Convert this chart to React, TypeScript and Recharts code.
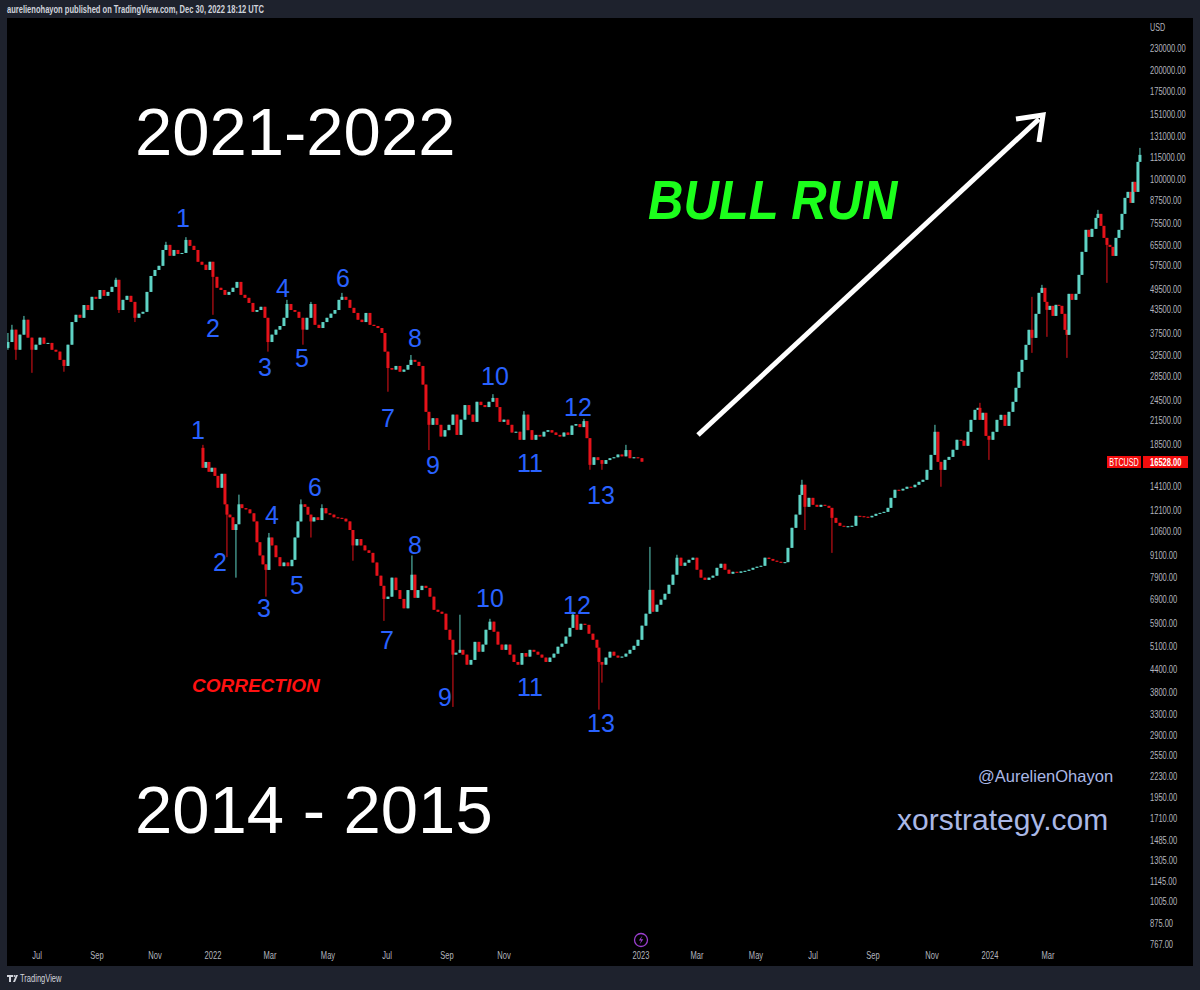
import React from 'react'
import { ComposedChart, Bar, XAxis, YAxis } from 'recharts'

// candle = [t, close, high?, low?]  (open = previous close, high/low fall back to the body)
type C = [number, number, (number | null)?, (number | null)?]

const upperOpen = 34100
const upperCandles: C[] = [
  [1, 35400, 37500, 33700], [5, 38300, 39500], [9, 33700, null, 31600], [13, 37100], [17, 40800, 41800],
  [21, 36400], [25, 33700, null, 29100], [29, 34800], [33, 36400], [37, 35000], [41, 35200], [45, 33700],
  [49, 33300], [53, 31600], [57, 30400, null, 29300], [61, 34800], [65, 40200], [69, 42100], [73, 41300],
  [77, 44800], [81, 43400], [85, 47200], [89, 46600], [93, 49300], [97, 47500], [101, 48700], [105, 50300],
  [109, 52600, 53300], [112, 43400, null, 42600], [116, 46300], [120, 47500], [124, 45700],
  [128, 41300, null, 40200], [132, 42400], [136, 42900], [140, 48700], [144, 53900], [148, 56000],
  [152, 57500], [156, 63600], [159, 65700, 67000], [163, 61300], [167, 63600], [171, 62000], [175, 62400],
  [179, 67800, 69000], [183, 65300], [187, 63600], [191, 59000], [195, 57900], [199, 56000], [203, 59000],
  [206, 53600, null, 42100], [210, 50000], [214, 49300], [218, 47800], [222, 48700], [226, 50000],
  [230, 51900], [234, 47800], [238, 46900], [242, 45400], [246, 42900], [250, 43400], [254, 44300],
  [258, 41300], [261, 35400, null, 33300], [265, 37100], [269, 38300], [273, 39200], [277, 41300],
  [280, 45100, 46300], [284, 43400], [288, 42900], [292, 41300], [296, 38300, null, 34800], [300, 41300],
  [304, 45100, 45700], [308, 39500], [312, 38700], [316, 40200], [320, 41300], [324, 42400], [328, 43400],
  [332, 46300], [335, 47200, 48400], [339, 46300], [343, 44000], [347, 42600], [351, 40800], [355, 40200],
  [359, 42600], [363, 39500], [367, 39200], [371, 38700], [375, 37500], [378, 33300],
  [381, 30000, null, 25800], [385, 29700], [389, 30400], [393, 29300], [397, 29700], [401, 30600],
  [404, 31600, 32600], [408, 31200], [412, 30400], [416, 27000], [419, 22700], [422, 20900, null, 17800],
  [426, 21800], [430, 20900], [434, 19400], [438, 20200], [442, 20900], [446, 22300], [450, 19600],
  [454, 21600], [458, 23700], [462, 22300], [466, 21300], [470, 24200], [474, 23700], [478, 23400],
  [482, 24200], [486, 24800, 25400], [490, 23400], [493, 21300], [497, 21600], [501, 20900], [505, 19900],
  [509, 20000], [513, 19000], [517, 22300, 22800], [521, 20200], [525, 19000], [529, 19600], [533, 19400],
  [537, 20000], [541, 20200], [545, 19900], [549, 19600], [553, 19400], [557, 19900], [561, 19600],
  [565, 20800], [569, 21000], [573, 20600], [577, 21400, 21700], [580, 19200], [583, 16200, null, 15700],
  [587, 17000], [591, 16700], [595, 16300, null, 15700], [599, 16700], [603, 16900], [607, 17000],
  [611, 17300], [615, 17100], [619, 17800, 18400], [623, 16900], [627, 17000], [631, 16900], [635, 16528],
]

const lowerOpen = 18050
const lowerCandles: C[] = [
  [196, 15900, 18400], [199, 16500], [202, 15500], [205, 15900], [208, 15100], [211, 14000], [215, 15300],
  [218, 12600], [220, 11800, null, 9000], [223, 11600], [226, 10700], [229, 11100, null, 7900],
  [232, 12600, 13400], [235, 12300], [239, 12200], [243, 11900], [247, 11300], [250, 9900], [253, 9100],
  [256, 8600], [259, 8300, null, 7000], [262, 10200, 10500], [265, 9700], [269, 9000], [273, 8500],
  [277, 8700], [281, 8500], [285, 8850], [288, 10200], [291, 11300], [294, 12600, 13000], [298, 12400],
  [301, 11800], [304, 11300, null, 10200], [307, 11600], [311, 11400], [315, 12300, 12600], [319, 11900],
  [323, 11800], [327, 11600], [331, 11560], [335, 11500], [339, 11300], [343, 10700],
  [346, 9700, null, 8800], [350, 10100], [354, 9700], [358, 9400], [362, 9250], [366, 8700], [370, 8000],
  [374, 7500], [377, 6900, null, 6000], [381, 7000], [385, 7900], [389, 7300], [393, 6900], [397, 6500],
  [401, 7300], [405, 8050, 9100], [408, 6950], [411, 7300], [415, 7500], [419, 7400], [423, 7000],
  [427, 6440], [431, 6360], [435, 6280], [439, 5670], [443, 5320], [446, 4840, null, 3470], [449, 4900],
  [453, 4990, 6240], [456, 4840], [460, 4540], [464, 4680], [468, 5250], [472, 4930], [476, 5160],
  [479, 5670], [483, 5970, 6080], [487, 5600], [491, 5160], [495, 4990], [499, 5160], [503, 4840],
  [507, 4620], [511, 4540], [515, 4890], [519, 4780], [523, 4990], [527, 4930], [531, 4840], [535, 4750],
  [539, 4620], [543, 4750], [547, 4870], [551, 5090], [555, 5190], [559, 5430], [563, 5740],
  [566, 6240, 6360], [570, 5670], [574, 5890], [578, 5850], [582, 5530], [586, 5320], [590, 5060],
  [592, 4620, null, 3410], [595, 4540, null, 4050], [599, 4750], [603, 4930], [607, 4810], [611, 4750],
  [615, 4780], [619, 4870], [623, 4990], [627, 5120], [631, 5320], [635, 5820], [639, 6280],
  [643, 7310, 9610], [646, 6360], [650, 6650], [654, 6870], [658, 7130], [662, 7550], [666, 8050],
  [670, 8970, 9140], [674, 8520], [678, 8690], [682, 8850], [686, 8970], [690, 8310], [694, 7900],
  [698, 7790], [702, 7900], [706, 8000], [710, 8410], [714, 8630], [718, 8310], [722, 8100], [726, 8200],
  [730, 8150], [734, 8220], [738, 8250], [742, 8310], [746, 8410], [750, 8470], [754, 8520], [758, 8970],
  [762, 8900], [766, 8800], [770, 8740], [774, 8690], [778, 8720], [781, 9550], [785, 10850], [789, 11800],
  [793, 13380], [795, 14270, 14730], [798, 12400, null, 10700], [802, 13130], [806, 12560], [810, 12400],
  [814, 12560], [818, 12480], [822, 12320], [825, 11560, null, 9250], [829, 11200], [833, 10990],
  [837, 10920], [841, 10960], [845, 10990], [849, 11710], [853, 11680], [857, 11640], [861, 11600],
  [865, 11710], [869, 11860], [873, 11930], [877, 12010], [881, 12320], [884, 13130], [888, 13820],
  [892, 13760], [896, 13910], [900, 14090], [904, 14050], [908, 14270], [912, 14540], [916, 14730],
  [920, 15690], [924, 17260], [928, 19990, 20900], [931, 16510], [934, 15690, null, 14090], [938, 16720],
  [942, 17040], [946, 17830], [950, 19000], [954, 18900], [957, 18290], [961, 19990], [964, 21570],
  [968, 22990], [971, 23280], [973, 21570, 24040], [976, 22560], [979, 19480], [982, 19000, null, 16720],
  [986, 19990], [990, 21570], [994, 22270], [998, 20760], [1002, 22700], [1006, 24190], [1009, 26450],
  [1012, 29280], [1015, 31600], [1019, 34770], [1022, 38260], [1025, 36350, 47190, 33040], [1029, 42350],
  [1032, 48410], [1035, 49970, 50940], [1038, 45710], [1040, 43440, null, 36590], [1043, 44560],
  [1046, 41810], [1049, 44850], [1052, 44560], [1055, 42350], [1058, 38260], [1060, 37060, null, 32000],
  [1062, 48100], [1065, 46300], [1069, 48100], [1072, 54280], [1075, 62840], [1079, 72290], [1082, 69140],
  [1085, 72750], [1089, 78010], [1091, 80030, 82100], [1094, 74150], [1097, 68690],
  [1100, 65700, null, 51590], [1103, 64870], [1106, 61250], [1109, 68690], [1112, 72290], [1115, 80030],
  [1118, 88610], [1121, 92060], [1124, 85830], [1126, 98110], [1128, 92060], [1131, 111430],
  [1133, 116510, 121800],
]

const monthTicks = [30, 90, 148, 206, 263, 321, 380, 440, 497, 634, 690, 749, 806, 866, 925, 983, 1041]
const monthLabels = ['Jul', 'Sep', 'Nov', '2022', 'Mar', 'May', 'Jul', 'Sep', 'Nov', '2023', 'Mar', 'May', 'Jul', 'Sep', 'Nov', '2024', 'Mar']

const priceTicks = [
  230000, 200000, 175000, 151000, 131000, 115000, 100000, 87500, 75500, 65500, 57500, 49500, 43500,
  37500, 32500, 28500, 24500, 21500, 18500, 14100, 12100, 10600, 9100, 7900, 6900, 5900, 5100, 4400,
  3800, 3300, 2900, 2550, 2230, 1950, 1710, 1485, 1305, 1145, 1005, 875, 767,
]
const lastPrice = 16528

const upperWaves: [string, number, number][] = [
  ['1', 183, 218], ['2', 213, 328], ['3', 265, 367], ['4', 283, 288], ['5', 302, 358], ['6', 343, 278],
  ['7', 388, 418], ['8', 415, 338], ['9', 433, 465], ['10', 495, 376], ['11', 530, 463], ['12', 578, 407],
  ['13', 601, 495],
]
const lowerWaves: [string, number, number][] = [
  ['1', 198, 430], ['2', 220, 562], ['3', 264, 608], ['4', 272, 515], ['5', 297, 585], ['6', 315, 487],
  ['7', 387, 640], ['8', 415, 545], ['9', 445, 697], ['10', 490, 598], ['11', 530, 687], ['12', 577, 605],
  ['13', 601, 723],
]

const UP = '#5fd3c5'
const DOWN = '#e5121a'
const AXIS = '#b2b5be'
const SANS = "'Liberation Sans', Arial, sans-serif"
// the screenshot's UI font is a condensed one; squeeze Liberation Sans horizontally
const SQUEEZE = 0.72

function buildRows(open: number, list: C[]) {
  let prev = open
  return list.map(([t, c, hi, lo]) => {
    const o = prev
    prev = c
    const h = Math.max(o, c, hi ?? 0)
    const l = Math.min(o, c, lo ?? Infinity)
    return { t, o, h, l, c, range: [l, h] }
  })
}

const rows = [...buildRows(upperOpen, upperCandles), ...buildRows(lowerOpen, lowerCandles)]

// wick spans the bar rect (low..high); body placed by log interpolation inside it
const Candle = (props: any) => {
  const { x, y, width, height, payload } = props
  if (x == null || y == null || !payload) return null
  const top = Math.min(y, y + height)
  const bot = Math.max(y, y + height)
  const { o, h, l, c } = payload
  const lh = Math.log(h), ll = Math.log(l)
  const py = (v: number) => (lh === ll ? top : top + ((lh - Math.log(v)) / (lh - ll)) * (bot - top))
  const cx = x + width / 2
  const color = c >= o ? UP : DOWN
  const yo = py(o), yc = py(c)
  const bt = Math.min(yo, yc)
  const bh = Math.max(1, Math.abs(yo - yc))
  return (
    <g>
      <line x1={cx} x2={cx} y1={top} y2={Math.max(bot, top + 1)} stroke={color} strokeWidth={1} />
      <rect x={cx - 1.5} y={bt} width={3} height={bh} fill={color} />
    </g>
  )
}

const PriceTick = (props: any) => {
  const { x, y, payload } = props
  return (
    <text transform={`translate(${x},${y}) scale(${SQUEEZE},1)`} dy="0.35em" fontSize={10.5} fill={AXIS} fontFamily={SANS}>
      {Number(payload.value).toFixed(2)}
    </text>
  )
}

const MonthTick = (props: any) => {
  const { x, y, payload } = props
  const label = monthLabels[monthTicks.indexOf(payload.value)] ?? ''
  return (
    <text transform={`translate(${x},${y}) scale(${SQUEEZE},1)`} dy="0.71em" textAnchor="middle" fontSize={10.5} fill={AXIS} fontFamily={SANS}>
      {label}
    </text>
  )
}

const Squeezed = ({ x, y, size, weight, fill, anchor, children }: any) => (
  <text transform={`translate(${x},${y}) scale(${SQUEEZE},1)`} fontSize={size} fontWeight={weight} fill={fill} textAnchor={anchor} fontFamily={SANS}>
    {children}
  </text>
)

export default function App() {
  return (
    <div style={{ position: 'absolute', left: 0, top: 0, width: 1200, height: 990, background: '#1e222d', overflow: 'hidden' }}>
      <div style={{ position: 'absolute', left: 7, top: 18, width: 1186, height: 948, background: '#000' }}>
        <ComposedChart width={1186} height={948} data={rows} margin={{ top: 0, right: 0, bottom: 0, left: 0 }}>
          <XAxis
            type="number"
            dataKey="t"
            domain={[0, 1136]}
            allowDataOverflow
            ticks={monthTicks}
            interval={0}
            axisLine={false}
            tickLine={false}
            tickSize={0}
            tickMargin={4}
            height={18}
            tick={<MonthTick />}
          />
          <YAxis
            orientation="right"
            scale="log"
            domain={[748, 278440]}
            allowDataOverflow
            ticks={priceTicks}
            interval={0}
            width={50}
            axisLine={false}
            tickLine={false}
            tickSize={0}
            tickMargin={7}
            tick={<PriceTick />}
          />
          <Bar dataKey="range" barSize={2} shape={Candle} isAnimationActive={false} />
        </ComposedChart>
      </div>

      <svg width={1200} height={990} style={{ position: 'absolute', left: 0, top: 0, pointerEvents: 'none' }}>
        <Squeezed x={7} y={13} size={10.5} weight={700} fill="#d1d4dc">
          aurelienohayon published on TradingView.com, Dec 30, 2022 18:12 UTC
        </Squeezed>
        <Squeezed x={1150} y={31} size={10} fill={AXIS}>USD</Squeezed>

        {/* last price tags */}
        <rect x={1107} y={456} width={34} height={12} fill="#f20d0d" />
        <Squeezed x={1124} y={465.5} size={10} fill="#fff" anchor="middle">BTCUSD</Squeezed>
        <rect x={1143} y={456} width={45} height={12} fill="#f20d0d" />
        <Squeezed x={1150} y={465.5} size={10.5} weight={700} fill="#fff">{lastPrice.toFixed(2)}</Squeezed>

        {/* big labels */}
        <text x={135} y={155} fontSize={67} fill="#fff" fontFamily={SANS}>2021-2022</text>
        <text x={135} y={833} fontSize={67} fill="#fff" fontFamily={SANS}>2014 - 2015</text>
        <text transform="translate(648,219) scale(1,1.12)" fontSize={49} fontWeight={900} fontStyle="italic" fill="#1cff1c" fontFamily={SANS}>BULL RUN</text>
        <text x={192} y={692} fontSize={19} fontWeight={900} fontStyle="italic" fill="#ff1111" fontFamily={SANS}>CORRECTION</text>
        <text x={978} y={782} fontSize={16.5} fill="#aab8e6" fontFamily={SANS}>@AurelienOhayon</text>
        <text x={897} y={830} fontSize={30} fill="#aab8e6" fontFamily={SANS}>xorstrategy.com</text>

        {[...upperWaves, ...lowerWaves].map(([s, x, y], i) => (
          <text key={i} x={x} y={y} fontSize={25} fill="#2962ff" textAnchor="middle" dominantBaseline="central" fontFamily={SANS}>{s}</text>
        ))}

        {/* arrow */}
        <line x1={698} y1={435} x2={1039} y2={119} stroke="#fff" strokeWidth={5} />
        <polyline points="1016,119 1043,115 1039,142" fill="none" stroke="#fff" strokeWidth={5} />

        {/* lightning marker */}
        <circle cx={641} cy={940} r={6.5} fill="none" stroke="#9c3fd0" strokeWidth={1.3} />
        <path d="M642.5 935.5 L638.8 940.6 L641.2 940.6 L639.6 944.5 L643.3 939.3 L640.9 939.3 Z" fill="#9c3fd0" />

        {/* footer */}
        <path d="M7 975 H13 V977 H11 V982 H9 V977 H7 Z" fill="#d1d4dc" />
        <circle cx={14.5} cy={976} r={1} fill="#d1d4dc" />
        <path d="M13 982 L16 975 H18 L15 982 Z" fill="#d1d4dc" />
        <Squeezed x={20} y={982} size={10.5} fill="#d1d4dc">TradingView</Squeezed>
      </svg>
    </div>
  )
}
